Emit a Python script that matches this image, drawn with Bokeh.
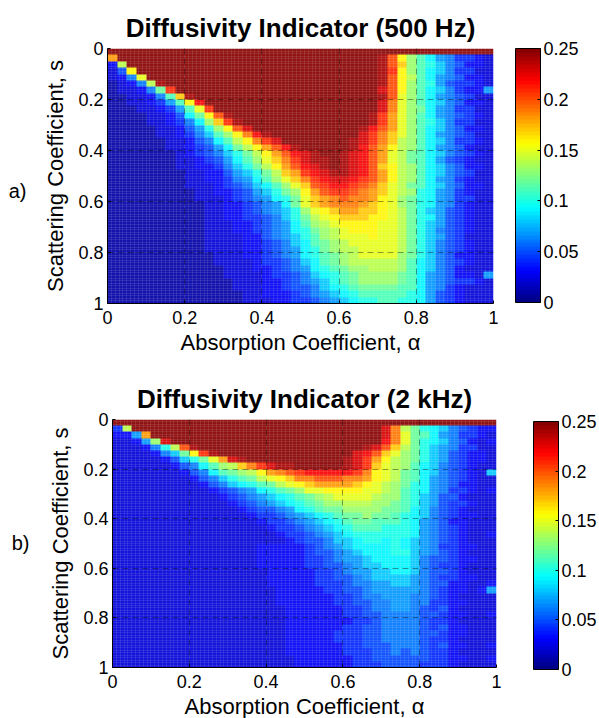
from bokeh.plotting import figure
from bokeh.layouts import column, row
from bokeh.models import Range1d, LinearColorMapper, ColorBar, FixedTicker, Grid, LinearAxis
from bokeh.embed import file_html
from bokeh.resources import INLINE
import numpy as np

title_a = "Diffusivity Indicator (500 Hz)"
title_b = "Diffusivity Indicator (2 kHz)"
x_label = "Absorption Coefficient, α"
y_label = "Scattering Coefficient, s"
axis_ticks = [0, 0.2, 0.4, 0.6, 0.8, 1]
bar_ticks = [0, 0.05, 0.1, 0.15, 0.2, 0.25]
D = [25]*10
# values in hundredths; rows run from s=0 downward, columns from alpha=0 rightward
di_500 = [
 D+D+D+D,
 [18,25,25,25,25,25,25,25,25,25]+D+[25,25,25,25,25,25,25,25,24,20]+[16,13,11,9,7,6,4,4,3,2],
 [3,14,25,25,25,25,25,25,25,25]+D+[25,25,25,25,25,25,25,25,24,20]+[17,13,11,10,8,6,5,3,3,2],
 [2,5,16,25,25,25,25,25,25,25]+D+[25,25,25,25,25,25,25,25,24,21]+[16,13,11,9,8,6,4,4,2,2],
 [2,3,6,15,25,25,25,25,25,25]+D+[25,25,25,25,25,25,25,25,24,20]+[16,14,11,9,7,6,5,3,3,2],
 [1,2,3,6,14,24,25,25,25,25]+D+[25,25,25,25,25,25,25,25,24,20]+[16,13,11,10,7,5,4,4,3,2],
 [1,2,2,3,6,12,21,25,25,25]+D+[25,25,25,25,25,25,25,25,23,20]+[16,13,11,9,8,6,4,3,3,7],
 [1,1,2,2,3,6,11,17,24,25]+D+[25,25,25,25,25,25,25,25,24,20]+[15,13,11,9,7,6,5,4,2,2],
 [1,1,2,2,3,4,7,11,16,22]+D+[25,25,25,25,25,25,25,25,23,19]+[15,13,11,9,8,6,5,3,3,2],
 [1,1,1,2,2,3,4,7,11,15]+[21,25,25,25,25,25,25,25,25,25]+[25,25,25,25,25,25,25,25,23,19]+[15,13,12,9,7,6,4,4,2,2],
 [1,1,1,1,2,2,3,5,9,12]+[16,20,24,25,25,25,25,25,25,25]+[25,25,25,25,25,25,25,24,21,18]+[15,13,11,9,7,6,5,4,3,2],
 [1,1,1,1,2,2,3,4,6,9]+[13,17,21,24,25,25,25,25,25,25]+[25,25,25,25,25,25,25,24,21,18]+[15,13,11,10,8,6,4,4,2,2],
 [1,1,1,1,1,2,2,3,5,7]+[10,13,16,20,23,25,25,25,25,25]+[25,25,25,25,25,25,24,22,20,18]+[15,13,11,9,8,6,5,3,3,2],
 [1,1,1,1,1,2,2,3,4,6]+[8,11,13,16,19,22,24,25,25,25]+[25,25,25,25,25,25,23,21,19,17]+[15,13,11,9,7,6,5,4,2,2],
 [1,1,1,1,1,1,2,2,3,5]+[6,9,11,14,16,19,21,23,25,25]+[25,25,25,25,25,24,23,21,19,17]+[14,13,11,9,8,6,4,4,3,2],
 [1,1,1,1,1,1,2,2,3,4]+[5,7,9,12,14,16,18,20,22,24]+[25,25,25,25,25,24,22,20,18,16]+[14,13,11,9,7,6,5,3,2,2],
 [1,1,1,1,1,1,1,2,3,4]+[5,6,8,10,12,14,16,18,20,22]+[23,24,25,25,24,23,22,20,18,15]+[14,12,11,9,8,6,5,4,3,2],
 [1,1,1,1,1,1,1,2,2,3]+[4,5,7,9,11,13,15,17,19,21]+[23,24,24,25,24,23,22,20,18,15]+[14,12,11,9,7,5,4,3,2,2],
 [1,1,1,1,1,1,1,2,2,3]+[3,4,6,8,10,12,14,16,18,20]+[22,23,24,25,24,23,22,20,17,16]+[14,13,11,9,8,6,5,3,3,2],
 [1,1,1,1,1,1,1,1,2,2]+[3,3,5,7,8,10,12,14,17,18]+[21,22,23,24,24,23,22,20,18,16]+[14,13,11,9,8,6,5,4,2,2],
 [1,1,1,1,1,1,1,1,2,2]+[3,3,4,6,7,9,11,13,15,17]+[19,21,22,23,23,22,21,20,18,16]+[14,13,11,9,7,6,4,3,2,2],
 [1,1,1,1,1,1,1,1,2,2]+[2,3,4,5,6,8,9,11,13,15]+[17,20,21,22,22,21,20,19,17,15]+[14,12,11,9,8,6,5,3,3,2],
 [1,1,1,1,1,1,1,1,1,2]+[2,3,3,4,5,7,8,10,12,13]+[16,18,20,21,21,20,19,18,17,15]+[14,13,10,9,7,6,4,3,2,2],
 [1,1,1,1,1,1,1,1,1,2]+[2,2,3,4,5,6,7,9,10,12]+[15,17,18,19,20,19,19,18,16,15]+[13,12,10,9,7,6,4,4,2,2],
 [1,1,1,1,1,1,1,1,1,1]+[2,2,3,3,4,5,6,7,9,12]+[15,17,18,19,19,19,18,17,16,15]+[13,12,10,9,7,6,4,3,2,2],
 [1,1,1,1,1,1,1,1,1,1]+[2,2,3,3,4,5,6,7,8,10]+[13,15,16,17,18,18,17,17,16,15]+[14,12,10,8,7,5,4,3,2,2],
 [1,1,1,1,1,1,1,1,1,1]+[2,2,3,3,4,4,5,6,8,10]+[12,14,15,16,17,17,17,16,16,15]+[14,12,10,9,7,5,4,3,2,2],
 [1,1,1,1,1,1,1,1,1,1]+[2,2,2,3,3,4,5,6,7,9]+[11,13,14,15,16,16,16,16,15,15]+[14,12,10,8,7,5,4,3,2,2],
 [1,1,1,1,1,1,1,1,1,1]+[2,2,2,3,3,4,5,6,7,9]+[10,12,13,14,15,16,16,16,15,15]+[14,12,10,8,6,5,4,3,2,2],
 [1,1,1,1,1,1,1,1,1,1]+[2,2,2,2,3,3,5,6,7,8]+[10,11,13,14,15,15,15,16,15,15]+[14,12,10,8,7,5,4,2,2,2],
 [1,1,1,1,1,1,1,1,1,1]+[2,2,2,2,3,3,4,5,6,8]+[9,11,12,13,14,15,15,15,15,15]+[14,12,10,8,6,5,4,3,2,2],
 [1,1,1,1,1,1,1,1,1,1]+[2,2,2,2,3,3,4,5,6,7]+[9,10,12,13,14,14,15,15,15,15]+[14,12,10,8,6,5,4,3,2,2],
 [1,1,1,1,1,1,1,1,1,1]+[1,2,2,2,3,3,4,5,6,7]+[9,10,11,12,13,14,15,15,15,15]+[13,12,10,8,6,5,3,3,2,2],
 [1,1,1,1,1,1,1,1,1,1]+[1,2,2,2,2,3,4,4,5,6]+[8,9,11,12,13,14,14,14,14,14]+[13,11,9,8,6,5,4,3,2,2],
 [1,1,1,1,1,1,1,1,1,1]+[1,1,2,2,2,3,3,4,5,6]+[7,9,10,11,12,13,13,14,14,14]+[13,11,9,8,6,5,3,2,2,2],
 [1,1,1,1,1,1,1,1,1,1]+[1,1,2,2,2,2,3,4,4,5]+[6,8,9,10,11,12,13,13,13,13]+[12,11,9,7,6,5,3,3,2,7],
 [1,1,1,1,1,1,1,1,1,1]+[1,1,1,2,2,2,3,3,4,5]+[6,7,8,10,11,12,13,13,13,13]+[12,11,9,7,6,5,4,4,3,2],
 [1,1,1,1,1,1,1,1,1,1]+[1,1,1,2,2,2,3,3,4,5]+[5,6,8,9,10,11,12,12,12,12]+[11,11,9,7,6,4,3,2,2,2],
 [1,1,1,1,1,1,1,1,1,1]+[1,1,1,1,2,2,3,3,3,4]+[5,6,7,8,9,10,11,11,11,11]+[11,10,9,7,5,4,3,2,2,2],
 [1,1,1,1,1,1,1,1,1,1]+[1,1,1,1,2,2,2,3,3,4]+[4,5,6,7,8,9,10,10,11,11]+[10,10,9,7,5,4,3,2,2,2],
]
L2 = [2]*10
di_2k = [
 D+D+D+D,
 [4,14,25,25,25,25,25,25,25,25]+D+[25,25,25,25,25,25,25,25,23,19]+[14,12,10,9,8,6,5,4,3,3],
 [3,3,7,18,25,25,25,25,25,25]+D+[25,25,25,25,25,25,25,25,23,19]+[15,12,11,9,7,6,4,4,3,2],
 [2,2,3,7,13,23,25,25,25,25]+D+[25,25,25,25,25,25,25,25,22,19]+[15,12,10,9,8,6,5,3,2,3],
 [2,2,2,3,6,10,14,20,24,25]+D+[25,25,25,25,25,25,24,23,20,17]+[14,12,10,8,7,6,4,4,2,2],
 [2,2,2,2,3,6,8,12,16,21]+[24,25,25,25,25,25,25,25,25,25]+[25,25,25,25,25,23,22,20,17,15]+[13,12,10,8,7,5,4,3,3,2],
 [2,2,2,2,2,3,5,8,10,12]+[15,18,23,24,25,25,25,25,25,25]+[25,25,25,25,24,23,21,18,16,14]+[13,12,10,8,7,5,4,3,3,2],
 [2,2,2,2,2,2,3,5,6,9]+[11,13,14,17,19,21,23,24,24,25]+[25,25,25,25,24,23,21,17,15,14]+[13,11,9,8,6,5,4,3,2,2],
 [2,2,2,2,2,2,2,3,5,6]+[9,11,12,13,14,16,18,19,20,21]+[22,22,22,22,22,21,19,16,15,14]+[12,11,9,8,6,5,4,3,2,8],
 [2,2,2,2,2,2,2,2,3,5]+[6,8,10,11,12,14,15,16,17,19]+[19,20,20,20,19,19,18,16,15,14]+[12,11,9,7,6,5,4,3,2,2],
 [2,2,2,2,2,2,2,2,2,3]+[5,6,8,9,10,11,12,14,15,16]+[17,18,18,18,18,17,16,15,14,13]+[12,10,9,7,6,5,3,3,2,2],
 L2+[3,4,5,6,7,9,10,11,12,13]+[15,15,16,16,16,16,15,15,14,13]+[11,10,9,7,6,4,4,3,2,3],
 L2+[2,3,4,5,6,7,8,9,10,11]+[12,13,14,15,15,15,15,14,13,13]+[11,10,8,7,5,5,3,2,2,2],
 L2+[2,2,3,4,5,6,7,8,9,10]+[11,12,13,13,14,14,14,13,13,12]+[11,10,8,7,5,4,4,3,2,2],
 L2+[2,2,2,3,4,5,5,6,7,9]+[10,11,12,12,13,13,13,13,12,12]+[11,9,8,6,5,4,3,2,2,2],
 L2+[2,2,2,2,3,4,4,5,6,7]+[8,9,10,11,12,12,13,12,12,11]+[10,9,8,6,5,4,3,3,2,2],
 L2+[2,2,2,2,2,3,4,4,5,6]+[7,8,9,10,11,12,12,11,11,11]+[10,9,7,6,5,3,3,2,2,2],
 L2+[2,2,2,2,2,2,3,4,4,5]+[6,7,8,9,10,11,11,11,10,10]+[10,9,7,6,5,4,3,2,2,2],
 L2+[2,2,2,2,2,2,2,3,4,4]+[5,6,7,8,9,10,10,10,10,10]+[10,9,7,6,5,4,3,2,2,3],
 L2+[2,2,2,2,2,2,2,2,3,4]+[5,5,6,8,8,9,10,10,9,10]+[9,8,7,6,5,4,3,2,2,2],
 L2+[2,2,2,2,2,3,3,3,3,3]+[4,5,6,7,8,9,9,9,9,10]+[9,8,7,6,4,4,3,3,2,2],
 L2+[2,2,2,2,2,3,3,3,3,3]+[4,5,5,6,7,8,9,9,9,10]+[10,8,7,6,5,4,3,2,2,2],
 L2+[2,2,2,2,2,3,3,3,3,3]+[4,4,5,6,7,7,8,9,9,9]+[9,8,6,5,5,4,3,3,2,2],
 L2+[2,2,2,2,2,3,3,3,3,3]+[4,4,5,5,6,7,8,8,9,9]+[9,8,6,5,4,4,3,2,2,2],
 L2+[2,2,2,2,2,2,3,3,3,3]+[3,4,4,5,6,7,7,8,8,9]+[9,8,6,5,5,4,3,2,2,2],
 L2+[2,2,2,2,2,2,3,3,3,3]+[3,4,4,5,5,6,7,8,8,8]+[8,7,6,5,4,4,3,3,2,2],
 L2+[2,2,2,2,2,2,3,3,3,3]+[3,4,4,4,5,6,6,7,7,8]+[8,7,6,5,5,3,3,2,2,3],
 L2+[2,2,2,2,2,2,2,3,3,3]+[3,3,4,4,5,5,6,7,7,7]+[7,7,6,5,4,3,3,2,3,7],
 L2+[2,2,2,2,2,2,2,3,3,3]+[3,3,3,4,4,5,6,6,7,7]+[7,6,6,5,4,3,2,2,2,2],
 L2+[2,2,2,2,2,2,2,3,3,3]+[3,3,3,4,4,5,5,6,6,7]+[7,6,6,4,4,3,3,2,2,2],
 L2+[2,2,2,2,2,2,2,2,3,3]+[3,3,3,3,4,4,5,6,6,7]+[7,6,5,4,5,3,2,2,2,2],
 L2+[2,2,2,2,2,2,2,2,3,3]+[3,3,3,3,4,4,5,5,6,6]+[6,6,5,5,4,3,3,2,2,3],
 L2+[2,2,2,2,2,2,2,2,3,3]+[3,3,3,3,3,4,4,5,6,6]+[6,6,5,4,4,3,2,2,2,2],
 L2+[2,2,2,2,2,2,2,2,3,3]+[3,3,3,3,4,4,5,5,6,6]+[6,6,5,4,5,3,3,2,2,2],
 L2+[2,2,2,2,2,2,2,2,3,3]+[3,3,3,4,4,4,5,5,6,6]+[6,6,5,5,4,3,3,2,2,2],
 L2+[2,2,2,2,2,2,2,2,3,3]+[3,3,3,4,4,4,5,5,6,6]+[6,6,5,4,4,3,2,2,2,2],
 L2+[2,2,2,2,2,2,2,2,3,3]+[3,3,3,3,4,4,5,5,5,6]+[6,6,5,4,5,3,3,2,2,3],
 L2+[2,2,2,2,2,2,2,2,3,3]+[3,3,3,3,4,4,4,5,5,6]+[5,6,5,4,4,3,2,2,2,2],
 L2+[2,2,2,2,2,2,2,2,2,3]+[3,3,3,3,3,4,4,5,5,5]+[5,5,5,4,4,3,3,2,2,3],
 L2+[2,2,2,2,2,2,2,2,2,3]+[3,3,3,3,3,4,4,4,5,5]+[5,5,4,4,4,3,2,2,2,2],
]

def jet(n=64):
    out = []
    for i in range(n):
        t = (i + 0.5) / n
        r = np.clip(min(4*t - 1.5, -4*t + 4.5), 0, 1)
        g = np.clip(min(4*t - 0.5, -4*t + 3.5), 0, 1)
        b = np.clip(min(4*t + 0.5, -4*t + 2.5), 0, 1)
        out.append("#%02x%02x%02x" % (int(r*255), int(g*255), int(b*255)))
    return out

FONT = "Liberation Sans"
PAL = jet()
MESH = [i / 100 for i in range(101)]

def panel(values, title, tag, tag_y, tag_gap, height, left, top, fw, fh, right, bottom, bar_dx, bar_dy, bar_h):
    p = figure(width=599, height=height, frame_width=fw, frame_height=fh,
               x_range=Range1d(0, 1), y_range=Range1d(1, 0), output_backend="svg",
               toolbar_location=None, title=title, min_border_left=left, min_border_top=top,
               min_border_right=right, min_border_bottom=bottom, outline_line_color=None,
               background_fill_color="white", border_fill_color="white")
    mapper = LinearColorMapper(palette=PAL, low=0, high=0.25)
    arr = np.array(values, dtype=float) / 100.0
    p.image(image=[arr], x=0, y=0, dw=1, dh=1, color_mapper=mapper, global_alpha=0.92)
    p.title.text_font = FONT
    p.title.text_font_size = "26px"
    p.title.text_font_style = "bold"
    p.title.align = "center"
    p.title.text_color = "black"
    p.title.standoff = 11
    for ax, lab in ((p.xaxis[0], x_label), (p.yaxis[0], y_label)):
        ax.ticker = FixedTicker(ticks=axis_ticks)
        ax.major_label_overrides = {t: ("%g" % t) for t in axis_ticks}
        ax.axis_label = lab
        ax.axis_label_text_font = FONT
        ax.axis_label_text_font_style = "normal"
        ax.axis_label_text_font_size = "22px"
        ax.axis_label_text_color = "black"
        ax.major_label_text_font = FONT
        ax.major_label_text_font_size = "18px"
        ax.major_label_text_color = "black"
        ax.axis_line_color = "black"
        ax.major_tick_in = 3
        ax.major_tick_out = 0
        ax.minor_tick_line_color = None
    p.xaxis[0].major_label_standoff = 7
    p.xaxis[0].axis_label_standoff = 3
    p.yaxis[0].major_label_standoff = 4
    p.yaxis[0].axis_label_standoff = 7
    p.xaxis[0].major_label_orientation = "horizontal"
    p.grid.grid_line_color = "black"
    p.grid.grid_line_alpha = 0.4
    p.grid.grid_line_dash = "6 4"
    p.grid.ticker = FixedTicker(ticks=axis_ticks)
    p.grid.level = "annotation"
    for dim in (0, 1):
        p.add_layout(Grid(dimension=dim, ticker=FixedTicker(ticks=MESH), grid_line_color="white",
                          grid_line_alpha=0.1, grid_line_width=1, level="glyph"))
    cb = ColorBar(color_mapper=mapper, width=25, height=bar_h, location=(bar_dx, bar_dy),
                  ticker=FixedTicker(ticks=bar_ticks),
                  major_label_overrides={t: ("%g" % t) for t in bar_ticks},
                  major_label_text_font=FONT, major_label_text_font_size="18px",
                  major_label_text_color="black", major_tick_line_color="black",
                  major_tick_in=3, bar_line_color="black", background_fill_color=None,
                  border_line_color=None, padding=0, margin=0, label_standoff=3, title=None)
    p.add_layout(cb, "center")
    tag_axis = LinearAxis(ticker=FixedTicker(ticks=[tag_y]), major_label_overrides={tag_y: tag},
                          major_label_text_font=FONT, major_label_text_font_size="20px",
                          major_label_text_color="black", axis_line_color=None,
                          major_tick_line_color=None, minor_tick_line_color=None,
                          major_label_standoff=tag_gap)
    p.add_layout(tag_axis, "left")
    return p

pa = panel(di_500, title_a, "a)", 0.557, 8, 365, 107, 48, 386, 255, 106, 62, 408, 1, 254)
pb = panel(di_2k, title_b, "b)", 0.496, 10, 353, 112, 54, 384, 248, 103, 51, 421, -2, 248)
page = column(row(pa), row(pb), spacing=0)
open("out.html", "w").write(file_html(page, INLINE))
